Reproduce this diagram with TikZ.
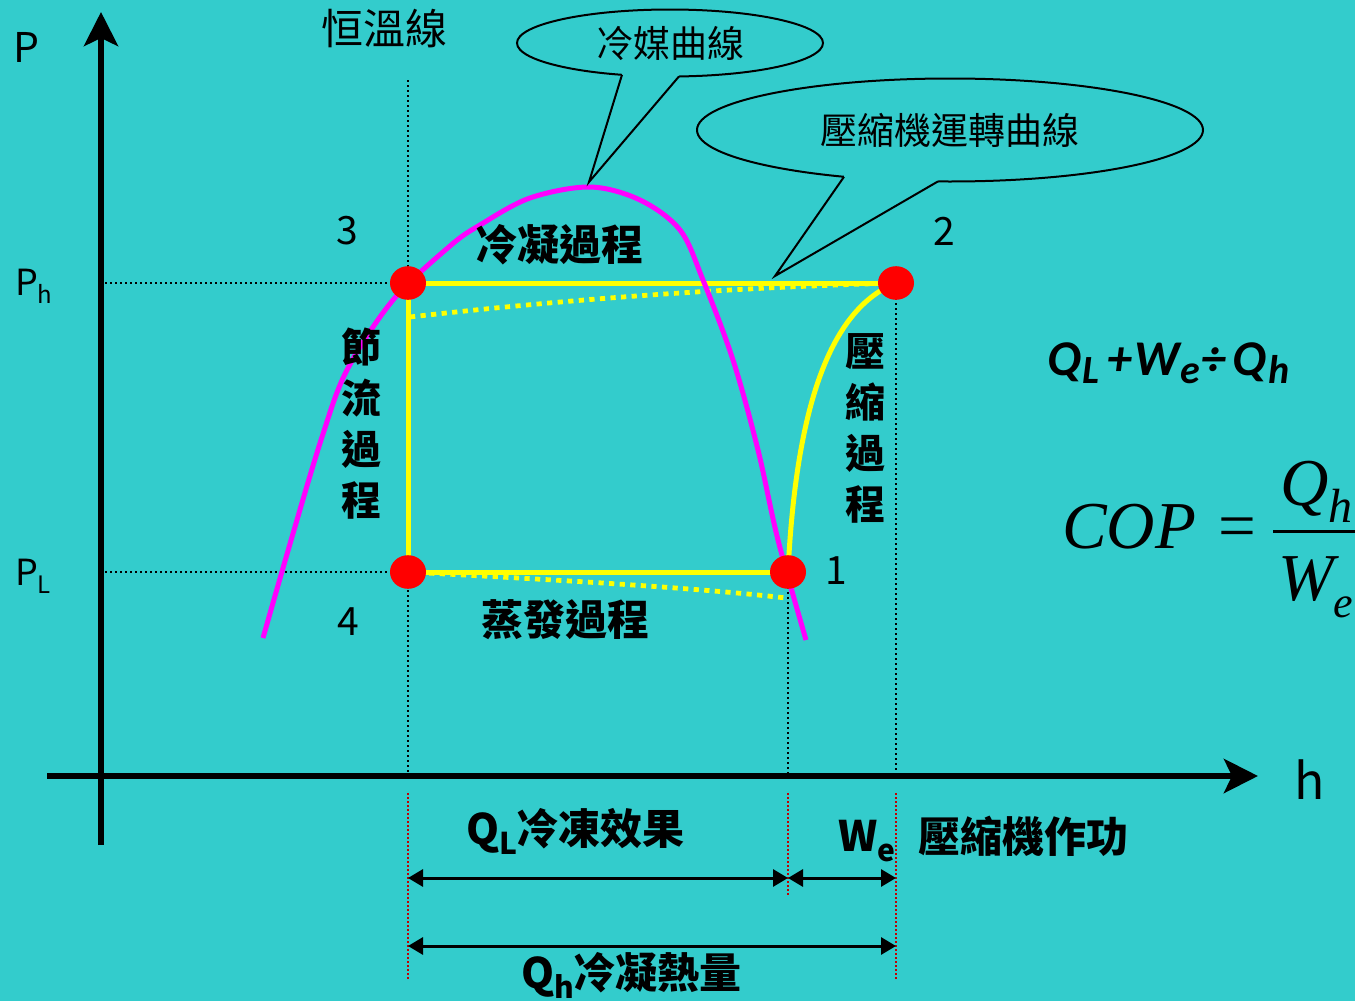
\documentclass[tikz,border=0pt]{standalone}
\usepackage{fontspec}
\setmainfont{Noto Sans CJK TC}
\newfontfamily\calfont{Carlito}
\newfontfamily\serfont{Liberation Serif}
\usetikzlibrary{arrows.meta,shapes.geometric}
\pgfdeclarelayer{front}
\pgfsetlayers{main,front}
\definecolor{bgc}{RGB}{51,204,204}
\definecolor{mag}{RGB}{255,0,255}
\definecolor{yel}{RGB}{255,255,0}
\definecolor{dotred}{RGB}{192,0,0}
\newcommand\fsz[1]{\fontsize{#1}{#1}\selectfont}
\newcommand\lowsub[3]{\raisebox{-#1}{\fsz{#2}#3}}
\begin{document}
\begin{tikzpicture}[x=0.5pt,y=-0.5pt,
  txt/.style={inner sep=0pt, outer sep=0pt},
  axisline/.style={line width=3pt, -{Stealth[length=17pt,width=17pt,inset=4pt]}},
  guide/.style={line width=1pt, dash pattern=on 1pt off 1.5pt},
  redguide/.style={dotred, line width=0.6pt, dash pattern=on 0.8pt off 1.2pt},
  cycleline/.style={yel, line width=2.5pt},
  cycledot/.style={yel, line width=2.4pt, dash pattern=on 2.6pt off 2.7pt},
  satcurve/.style={mag, line width=2.5pt},
  statept/.style={ellipse, fill=red, minimum width=18pt, minimum height=16.8pt, inner sep=0pt},
  bubble/.style={ellipse, draw=black, line width=1pt, fill=bgc, inner sep=0pt, font=\fsz{18.5}},
  pointer/.style={line width=1pt, line join=miter},
  dimarrow/.style={line width=1.5pt, {Triangle[length=7.5pt,width=8.5pt]}-{Triangle[length=7.5pt,width=8.5pt]}},
  numlbl/.style={txt, font=\fsz{19.5}},
  proc/.style={txt, font=\fsz{21}\bfseries},
  vproc/.style={txt, align=center, font=\fontsize{20}{25.5}\selectfont\bfseries},
  serif/.style={txt, font=\serfont\fsz{33.5}\itshape},
]
\useasboundingbox (0,0) rectangle (1355,1001);
\fill[bgc] (0,0) rectangle (1355,1001);

% state points (front layer)
\begin{pgfonlayer}{front}
\node[statept] (p3) at (408,283) {};
\node[statept] (p2) at (896,283) {};
\node[statept] (p4) at (408,572) {};
\node[statept] (p1) at (788,572) {};
\end{pgfonlayer}

% coordinates
\coordinate (g3top) at (408,80);
\coordinate (g3bot) at (408,776);
\coordinate (g2bot) at (896,776);
\coordinate (g1bot) at (788,776);
\coordinate (yPh) at (105,283);
\coordinate (yPL) at (105,572);

% black dotted guides
\draw[guide] (g3top) -- (g3bot);
\draw[guide] (p2.center) -- (g2bot);
\draw[guide] (p1.center) -- (g1bot);
\draw[guide] (yPh) -- (p3.center);
\draw[guide] (yPL) -- (p4.center);

% red dotted guides below axis
\coordinate (r3a) at (408,793); \coordinate (r3b) at (408,980);
\coordinate (r1a) at (788,793); \coordinate (r1b) at (788,895);
\coordinate (r2a) at (896,793); \coordinate (r2b) at (896,980);
\draw[redguide] (r3a) -- (r3b);
\draw[redguide] (r1a) -- (r1b);
\draw[redguide] (r2a) -- (r2b);

% axes
\coordinate (yb) at (101,845); \coordinate (yt) at (101,12);
\coordinate (xl) at (47,776); \coordinate (xr) at (1258,776);
\draw[axisline] (yb) -- (yt);
\draw[axisline] (xl) -- (xr);

% cycle
\coordinate (d3) at (410,317);
\coordinate (d1) at (786,598);
\draw[cycleline] (p3.center) -- (p2.center);
\draw[cycleline] (p3.center) -- (p4.center);
\draw[cycleline] (p4.center) -- (p1.center);
\draw[cycleline] (p1.center) .. controls (795,430) and (822,312) .. (p2.center);
\draw[cycledot] (d3) .. controls (560,300) and (720,288) .. (p2.center);
\draw[cycledot] (p4.center) .. controls (560,580) and (700,588) .. (d1);

% saturation curve
\draw[satcurve] plot[smooth, tension=0.55] coordinates {(263,638) (292,537) (322,437) (347,370) (393,300) (450,246) (480,225) (530,198) (590,187) (640,200) (680,230) (703,280) (733,360) (758,450) (778,540) (806,640)};

% axis labels
\node[txt, font=\fsz{20.5}] (lP) at (26,47) {P};
\node[txt, font=\fsz{18}, anchor=base west] (lPh) at (15,295) {P\lowsub{4pt}{12}{h}};
\node[txt, font=\fsz{18}, anchor=base west] (lPL) at (15,585) {P\lowsub{4pt}{12}{L}};
\node[txt, font=\fsz{25}] (lh) at (1310,780) {h};
\node[txt, font=\fsz{21}] (liso) at (384,29) {恒溫線};

% state numbers
\node[numlbl] (n3) at (347,231) {3};
\node[numlbl] (n2) at (944,231) {2};
\node[numlbl] (n4) at (348,622) {4};
\node[numlbl] (n1) at (836,571) {1};

% process labels
\node[proc] (cond) at (559,245) {冷凝過程};
\node[proc] (evap) at (565,620) {蒸發過程};
\node[vproc] (thr) at (361,423.5) {節\\流\\過\\程};
\node[vproc] (comp) at (865,428.5) {壓\\縮\\過\\程};

% callouts
\node[bubble, minimum width=153pt, minimum height=33.5pt] (b1) at (670,43) {冷媒曲線};
\coordinate (b1a) at (622,74.8); \coordinate (b1tip) at (589,182); \coordinate (b1b) at (679,76.4);
\fill[bgc] (b1a) -- (b1tip) -- (b1b) -- (679,68) -- (622,68) -- cycle;
\draw[pointer] (b1a) -- (b1tip) -- (b1b);

\node[bubble, minimum width=253pt, minimum height=51.5pt] (b2) at (950,130) {壓縮機運轉曲線};
\coordinate (b2a) at (844,176.8); \coordinate (b2tip) at (775,276); \coordinate (b2b) at (938,181.4);
\fill[bgc] (b2a) -- (b2tip) -- (b2b) -- (938,172) -- (844,172) -- cycle;
\draw[pointer] (b2a) -- (b2tip) -- (b2b);

% dimension arrows
\coordinate (qa) at (408,878); \coordinate (qb) at (788,878); \coordinate (wb) at (896,878);
\draw[dimarrow] (qa) -- (qb);
\draw[dimarrow] (qb) -- (wb);
\coordinate (ha) at (408,946); \coordinate (hb) at (896,946);
\draw[dimarrow] (ha) -- (hb);

% bottom labels
\node[txt, anchor=base west, font=\fsz{21}\bfseries] (lQL) at (466,844) {Q\lowsub{5pt}{15}{L}冷凍效果};
\node[txt, anchor=base west, font=\fsz{21}\bfseries] (lWe) at (838,851) {W\lowsub{5pt}{15}{e}};
\node[txt, anchor=base west, font=\fsz{21}\bfseries] (lcw) at (918,852) {壓縮機作功};
\node[txt, anchor=base west, font=\fsz{21}\bfseries] (lQh) at (521,988) {Q\lowsub{5pt}{15}{h}冷凝熱量};

% formulas
\node[txt, anchor=base west, font=\calfont\fsz{25}\bfseries\itshape] (f1) at (1047,375) {Q\kern1pt\lowsub{4pt}{20}{L}\kern4pt+\kern1pt W\lowsub{4pt}{20}{e}\kern1pt÷\kern3pt Q\kern1pt\lowsub{4pt}{20}{h}};

\node[serif, anchor=base west] (cop) at (1062,548) {COP};
\node[serif, anchor=base west] (eq) at (1218,548) {\upshape =};
\node[serif, anchor=base west] (num) at (1280,505) {Q\lowsub{8.5pt}{24}{h}};
\node[serif, anchor=base west] (den) at (1278,600) {W\lowsub{8.5pt}{22}{e}};
\coordinate (fb1) at (1273,531); \coordinate (fb2) at (1360,531);
\draw[line width=1.5pt] (fb1) -- (fb2);
\end{tikzpicture}
\end{document}
